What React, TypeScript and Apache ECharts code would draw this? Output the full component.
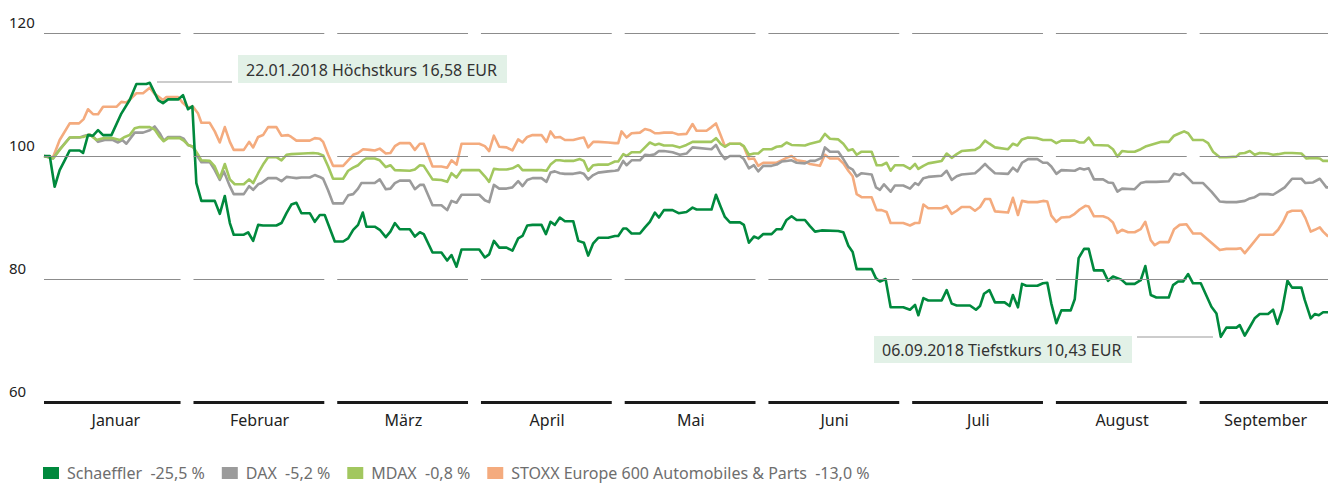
import React, { useEffect, useRef } from "react";
import * as echarts from "echarts";

// x = position within the 9-month period (1 month = 100 units, 0 = 1 January)
const months = ["Januar", "Februar", "März", "April", "Mai", "Juni", "Juli", "August", "September"];
const yTicks = { min: 60, max: 120, step: 20 };
const gridValues = [80, 100, 120];
const seriesNames = ["Schaeffler", "DAX", "MDAX", "STOXX Europe 600 Automobiles & Parts"];
const changes = ["-25,5 %", "-5,2 %", "-0,8 %", "-13,0 %"];

const schaeffler: [number, number][] = [
  [0, 100], [4.0, 100], [7.4, 95.0], [10.9, 97.7], [14.4, 99.3], [17.9, 100.9], [24.8, 100.9], [27.2, 100.5],
  [30.6, 103.4], [34.1, 103.3], [37.6, 104.2], [41.1, 103.4], [46.9, 103.4], [53.8, 106.9], [59.6, 109.1],
  [64.3, 111.7], [71.2, 111.7], [73.6, 111.9], [79.4, 109.1], [82.8, 108.6], [86.3, 109.2], [93.3, 109.2],
  [96.7, 109.9], [100.2, 107.6], [103.2, 108.1], [106.0, 95.6], [109.5, 92.7], [118.8, 92.7], [122.3, 90.6],
  [125.8, 93.5], [129.3, 89.1], [132.0, 87.2], [139.0, 87.2], [142.0, 87.6], [145.5, 86.2], [149.0, 88.8],
  [152.4, 88.7], [161.7, 88.7], [165.2, 89.1], [168.7, 90.7], [172.1, 92.1], [175.6, 92.4], [179.1, 90.7],
  [184.9, 90.7], [188.4, 89.3], [191.9, 90.4], [195.3, 90.4], [202.3, 86.1], [208.1, 86.1], [211.6, 86.6],
  [215.1, 88.0], [218.5, 88.8], [221.8, 90.8], [224.3, 88.5], [230.1, 88.5], [233.6, 88.0], [237.8, 86.8],
  [241.0, 87.7], [244.1, 89.1], [247.5, 88.1], [254.5, 88.1], [258.0, 86.9], [261.5, 87.6], [264.2, 87.3],
  [270.3, 84.3], [276.5, 84.3], [280.5, 83.0], [283.5, 83.9], [287.0, 82.0], [290.5, 84.8], [302.8, 84.8],
  [306.7, 83.5], [309.7, 84.0], [313.0, 86.2], [316.7, 85.1], [321.8, 85.1], [325.9, 84.6], [329.9, 86.6],
  [332.9, 87.0], [336.2, 88.7], [339.9, 88.8], [346.1, 88.8], [349.2, 87.3], [352.4, 89.3], [355.4, 88.8],
  [358.9, 90.0], [362.4, 89.4], [368.2, 89.4], [371.7, 86.2], [375.6, 85.9], [378.6, 83.8], [382.1, 85.8],
  [385.6, 86.7], [392.5, 86.7], [397.2, 87.0], [399.5, 87.0], [403.0, 88.2], [405.3, 88.2], [408.8, 87.4],
  [414.6, 87.4], [418.1, 88.4], [421.5, 89.3], [425.0, 90.8], [427.8, 90.0], [431.3, 91.2], [437.3, 91.2],
  [441.5, 90.7], [447.0, 90.9], [451.2, 91.6], [454.0, 91.3], [464.4, 91.3], [467.5, 93.7], [470.7, 91.8],
  [473.7, 90.1], [477.2, 89.2], [484.2, 89.2], [486.9, 88.8], [490.4, 85.9], [493.9, 86.9], [496.9, 86.6],
  [500.4, 87.3], [506.2, 87.3], [509.7, 88.1], [513.2, 88.1], [516.6, 89.6], [520.1, 90.2], [523.6, 89.6],
  [529.4, 89.6], [532.9, 88.6], [536.4, 87.7], [541.0, 87.9], [552.6, 87.8], [556.1, 87.6], [559.6, 85.4],
  [562.6, 84.4], [565.4, 81.6], [575.8, 81.6], [578.8, 80.1], [581.6, 79.6], [585.5, 80.0], [589.0, 75.4],
  [597.8, 75.4], [602.5, 75.0], [606.0, 75.8], [608.3, 74.1], [611.8, 76.9], [615.2, 76.5], [624.5, 76.5],
  [628.0, 78.2], [631.5, 76.0], [635.0, 75.7], [644.2, 75.7], [648.4, 75.0], [651.2, 75.6], [654.0, 77.6],
  [657.7, 78.2], [661.6, 76.2], [668.3, 76.2], [671.8, 75.6], [674.1, 77.4], [677.6, 75.4], [680.4, 79.2],
  [683.4, 78.9], [691.1, 78.9], [695.0, 79.3], [698.0, 79.4], [700.8, 76.0], [704.3, 72.8], [707.8, 74.9],
  [714.3, 74.9], [717.1, 76.7], [719.8, 83.4], [723.6, 84.9], [726.8, 84.9], [730.5, 81.4], [736.8, 81.4],
  [740.3, 79.7], [743.7, 80.4], [749.5, 79.9], [753.0, 79.2], [758.8, 79.2], [763.0, 79.8], [766.2, 82.1],
  [770.0, 77.4], [773.9, 77.0], [782.5, 77.0], [785.5, 79.0], [789.0, 79.6], [792.5, 79.6], [796.0, 80.8],
  [799.4, 79.3], [804.8, 79.3], [812.2, 75.5], [815.7, 74.4], [818.7, 70.6], [822.6, 72.1], [829.6, 72.1],
  [831.9, 72.5], [835.4, 70.8], [838.9, 72.2], [842.3, 73.6], [845.8, 74.3], [851.6, 74.3], [855.1, 75.0],
  [858.1, 72.7], [861.4, 75.0], [865.1, 79.7], [868.3, 78.6], [874.8, 78.6], [877.1, 76.6], [881.3, 73.6],
  [884.1, 74.3], [886.9, 74.1], [889.9, 74.6], [893.4, 74.6],
];

const dax: [number, number][] = [
  [0, 100], [6.3, 99.6], [10.9, 101.1], [17.9, 103.0], [24.8, 103.0], [28.3, 103.3], [31.8, 103.5], [35.3, 102.9],
  [37.6, 102.3], [42.2, 102.6], [48.0, 102.6], [51.5, 102.2], [54.5, 102.6], [57.3, 102.0], [63.1, 103.8],
  [68.9, 103.8], [73.6, 104.2], [77.0, 104.8], [80.5, 103.7], [83.3, 102.5], [86.3, 103.1], [94.4, 103.1],
  [97.2, 102.8], [100.2, 101.8], [103.7, 101.5], [107.2, 99.8], [109.5, 99.0], [115.3, 99.0], [118.8, 97.7],
  [122.3, 96.1], [125.1, 97.5], [129.3, 95.1], [132.0, 93.8], [139.0, 93.8], [142.7, 95.1], [145.5, 94.5],
  [149.0, 95.4], [151.3, 95.6], [155.9, 96.4], [161.7, 96.4], [165.2, 95.9], [168.7, 96.6], [172.1, 96.5],
  [175.6, 96.4], [179.1, 96.5], [184.9, 96.5], [188.4, 96.9], [191.9, 96.6], [194.2, 96.3], [197.7, 94.4],
  [201.1, 92.3], [208.1, 92.3], [211.6, 93.6], [215.1, 93.8], [218.5, 94.7], [220.8, 95.6], [230.1, 95.6],
  [233.6, 96.2], [237.8, 94.6], [241.0, 94.7], [244.1, 95.6], [247.5, 96.0], [254.5, 96.0], [258.0, 94.6],
  [261.5, 95.3], [264.2, 95.3], [270.3, 92.0], [276.5, 92.0], [280.5, 91.2], [283.5, 92.7], [287.0, 92.4],
  [290.5, 93.7], [302.8, 93.7], [306.7, 92.8], [309.7, 92.5], [313.0, 95.3], [316.7, 94.7], [321.8, 94.7],
  [325.9, 94.9], [329.9, 95.9], [332.9, 95.1], [336.2, 96.1], [339.9, 96.4], [346.1, 96.4], [349.6, 95.8],
  [352.4, 97.3], [355.4, 97.5], [358.9, 97.2], [362.4, 97.1], [368.2, 97.1], [372.8, 97.3], [375.6, 97.1],
  [378.6, 96.2], [382.1, 96.9], [385.6, 97.3], [392.5, 97.5], [397.2, 97.6], [399.5, 97.7], [403.0, 99.2],
  [405.3, 98.5], [408.8, 99.3], [414.6, 99.3], [418.1, 100.2], [421.5, 100.1], [425.0, 100.3], [427.8, 100.8],
  [431.3, 100.8], [437.3, 100.6], [442.4, 100.2], [447.0, 100.4], [451.2, 101.4], [464.4, 101.1], [467.5, 101.8],
  [470.7, 100.4], [473.7, 99.5], [477.2, 100.0], [484.2, 100.0], [486.9, 99.5], [490.4, 98.0], [493.9, 98.5],
  [496.9, 97.5], [500.4, 98.4], [506.2, 98.4], [509.7, 98.6], [513.2, 99.1], [516.6, 99.2], [520.1, 99.3],
  [523.6, 98.9], [529.4, 98.8], [532.9, 99.2], [536.4, 99.2], [541.0, 99.7], [543.3, 101.4], [546.8, 100.7],
  [552.6, 100.7], [556.1, 99.5], [559.6, 98.2], [562.6, 97.8], [565.4, 96.7], [568.8, 97.2], [575.8, 97.0],
  [578.8, 94.9], [581.6, 94.5], [584.4, 95.4], [589.0, 94.2], [592.0, 95.2], [597.8, 95.2], [602.5, 94.7],
  [606.0, 95.6], [608.3, 95.3], [611.8, 96.4], [615.2, 96.6], [624.5, 96.8], [628.0, 97.6], [631.5, 96.1],
  [635.0, 96.7], [638.4, 97.0], [647.7, 97.2], [651.2, 97.9], [654.7, 98.7], [657.7, 98.0], [661.6, 97.2],
  [670.7, 97.1], [674.1, 98.1], [677.2, 97.5], [680.4, 98.9], [684.6, 99.5], [691.1, 99.5], [695.0, 98.9],
  [698.0, 98.9], [700.8, 98.3], [704.3, 97.1], [707.8, 97.7], [717.1, 97.6], [720.5, 98.0], [723.6, 97.8],
  [726.8, 98.0], [730.5, 96.2], [736.8, 96.2], [740.3, 95.7], [743.7, 95.6], [746.8, 94.2], [750.0, 94.7],
  [758.8, 94.6], [763.0, 95.6], [766.9, 95.8], [773.9, 95.8], [782.5, 95.9], [786.2, 97.1], [790.1, 96.9],
  [792.5, 97.2], [796.0, 96.4], [799.4, 95.6], [806.4, 95.6], [812.2, 94.2], [818.0, 92.6], [822.6, 92.5],
  [829.6, 92.5], [835.4, 92.7], [838.9, 93.1], [842.3, 93.3], [845.8, 93.8], [851.6, 93.8], [855.1, 93.7],
  [858.6, 94.2], [863.2, 94.9], [868.3, 96.3], [874.8, 96.3], [877.6, 95.6], [882.9, 95.7], [887.6, 96.3],
  [889.9, 95.6], [892.2, 94.9], [893.4, 94.9],
];

const mdax: [number, number][] = [
  [0, 100], [6.3, 99.6], [10.9, 101.0], [17.9, 103.0], [27.2, 103.1], [31.8, 103.5], [36.5, 102.6], [41.1, 102.9],
  [48.0, 102.9], [52.7, 102.6], [56.2, 103.1], [59.6, 103.4], [63.1, 104.5], [66.6, 104.7], [73.6, 104.7],
  [77.0, 104.3], [80.5, 103.1], [83.3, 102.4], [86.3, 102.9], [94.4, 102.9], [97.2, 102.5], [100.2, 101.8],
  [103.7, 101.5], [107.2, 100.2], [109.5, 99.3], [115.3, 99.2], [118.8, 98.3], [122.3, 96.4], [125.8, 98.7],
  [129.3, 96.2], [132.7, 95.4], [139.0, 95.4], [142.7, 96.2], [145.5, 95.6], [149.0, 97.2], [152.9, 98.8],
  [155.9, 99.8], [161.7, 99.8], [165.2, 99.3], [168.7, 100.2], [172.1, 100.3], [180.3, 100.4], [187.2, 100.5],
  [190.7, 100.4], [194.2, 100.1], [197.7, 98.3], [201.1, 96.3], [208.1, 96.3], [211.6, 97.6], [215.1, 98.1],
  [218.5, 98.5], [222.0, 99.3], [224.3, 99.6], [230.1, 99.6], [233.6, 99.3], [237.8, 98.2], [241.0, 98.5],
  [244.1, 97.7], [254.5, 97.6], [258.0, 97.8], [261.5, 98.5], [264.2, 98.4], [270.3, 96.2], [276.5, 96.1],
  [280.5, 95.8], [283.5, 97.2], [287.0, 96.5], [290.5, 97.7], [302.8, 97.7], [306.7, 96.7], [309.7, 95.8],
  [313.0, 97.9], [316.7, 97.8], [321.8, 97.8], [325.9, 98.0], [329.9, 98.5], [332.9, 97.7], [346.1, 97.7],
  [349.6, 97.6], [352.4, 98.6], [356.1, 99.3], [358.9, 99.3], [362.4, 99.2], [368.2, 99.2], [372.8, 99.5],
  [375.6, 99.2], [378.6, 97.6], [382.1, 98.5], [385.6, 98.6], [392.5, 98.6], [397.2, 99.1], [399.5, 99.1],
  [403.0, 100.3], [405.3, 100.0], [408.8, 100.6], [414.6, 100.6], [418.1, 101.4], [421.5, 102.2], [425.0, 101.8],
  [427.8, 102.0], [431.3, 101.7], [437.3, 101.7], [442.4, 101.4], [447.0, 101.8], [451.2, 102.3], [464.4, 102.3],
  [467.5, 102.9], [470.7, 102.0], [473.7, 101.5], [477.2, 102.0], [484.2, 102.0], [486.9, 101.6], [490.4, 100.2],
  [493.9, 100.4], [496.9, 100.4], [500.4, 101.1], [506.2, 101.1], [509.7, 101.5], [513.2, 101.6], [516.6, 102.2],
  [520.1, 101.8], [529.4, 101.7], [532.9, 102.0], [536.4, 102.2], [539.8, 102.4], [543.3, 103.6], [546.8, 102.8],
  [552.6, 102.7], [556.1, 102.0], [559.6, 100.9], [562.6, 101.1], [565.4, 100.2], [568.8, 100.7], [575.8, 100.7],
  [579.3, 98.5], [582.8, 98.5], [586.2, 98.9], [589.0, 97.6], [592.0, 98.5], [597.8, 98.5], [602.5, 97.9],
  [606.0, 98.7], [608.3, 97.9], [611.8, 98.4], [615.2, 98.8], [624.5, 99.2], [628.0, 100.4], [631.5, 99.7],
  [635.0, 100.3], [638.4, 100.8], [647.7, 101.0], [651.2, 101.5], [654.7, 102.5], [657.7, 102.0], [661.6, 101.4],
  [670.7, 101.1], [674.1, 102.0], [677.2, 101.7], [680.4, 102.7], [684.6, 103.0], [691.1, 102.9], [695.0, 102.6],
  [700.8, 102.6], [704.3, 102.1], [707.8, 102.5], [717.1, 102.5], [720.5, 102.2], [723.6, 102.2], [726.8, 103.0],
  [730.5, 101.8], [740.3, 101.7], [743.7, 101.1], [746.8, 99.9], [750.0, 100.8], [754.2, 100.7], [758.8, 100.7],
  [763.0, 101.1], [766.9, 101.6], [772.7, 102.0], [777.4, 102.3], [782.5, 102.3], [786.2, 103.3], [790.1, 103.7],
  [793.2, 104.0], [796.0, 103.7], [799.4, 102.6], [806.4, 102.6], [809.9, 102.1], [813.3, 100.7], [818.0, 99.8],
  [822.6, 99.8], [829.6, 99.9], [831.9, 100.4], [835.4, 100.5], [838.9, 100.8], [842.3, 100.2], [845.8, 100.5],
  [851.6, 100.4], [855.1, 100.2], [858.6, 100.3], [863.2, 100.5], [868.3, 100.5], [874.8, 100.4], [878.3, 99.6],
  [882.9, 99.7], [887.6, 99.6], [889.9, 99.2], [893.4, 99.2],
];

const stoxx: [number, number][] = [
  [0, 100], [6.3, 99.8], [10.9, 102.6], [17.9, 105.3], [24.4, 105.3], [27.6, 106.0], [30.6, 107.6], [34.1, 106.8],
  [37.6, 106.8], [41.1, 108.0], [50.4, 108.0], [53.8, 108.8], [57.3, 108.7], [60.8, 109.4], [64.3, 110.2],
  [68.9, 110.2], [73.6, 111.1], [77.0, 110.1], [82.8, 109.1], [85.2, 109.6], [93.3, 109.6], [96.7, 108.6],
  [100.2, 107.9], [103.7, 108.0], [107.2, 106.9], [109.5, 105.4], [115.3, 105.4], [118.8, 104.0], [122.3, 102.2],
  [125.8, 104.7], [129.3, 102.3], [132.0, 101.0], [139.0, 101.0], [142.7, 102.3], [145.5, 101.4], [149.0, 103.1],
  [152.4, 103.4], [155.9, 104.7], [161.7, 104.7], [165.2, 103.3], [169.8, 103.4], [172.1, 103.1], [175.6, 102.5],
  [184.9, 102.5], [188.4, 102.9], [191.9, 102.8], [194.2, 102.3], [197.7, 100.2], [201.1, 98.4], [208.1, 98.4],
  [211.6, 99.3], [215.1, 100.2], [218.5, 100.5], [222.0, 101.1], [226.6, 101.0], [230.1, 100.9], [233.6, 101.2],
  [237.8, 100.4], [241.0, 100.5], [244.1, 101.6], [247.5, 102.1], [254.5, 102.1], [258.0, 101.0], [261.5, 102.0],
  [264.2, 102.0], [270.3, 98.3], [276.5, 98.3], [280.5, 98.1], [283.5, 99.3], [287.0, 98.6], [290.5, 102.0],
  [302.8, 102.0], [306.7, 101.6], [309.7, 100.8], [313.0, 103.3], [316.7, 101.5], [321.8, 101.4], [325.9, 100.9],
  [329.9, 102.7], [332.9, 102.2], [336.2, 103.1], [339.9, 103.4], [346.1, 103.4], [349.6, 102.3], [352.4, 104.0],
  [355.4, 103.0], [358.9, 103.1], [362.4, 102.6], [368.2, 102.6], [372.8, 102.9], [375.6, 103.0], [378.6, 101.4],
  [382.1, 102.3], [385.6, 102.3], [392.5, 102.2], [397.2, 102.1], [399.5, 102.1], [401.8, 104.0], [405.3, 103.0],
  [408.8, 103.7], [414.6, 103.8], [418.1, 104.4], [421.5, 104.2], [425.0, 103.7], [427.8, 103.7], [431.3, 103.8],
  [437.3, 103.8], [441.3, 103.5], [447.0, 103.6], [451.2, 105.2], [454.0, 104.1], [460.9, 104.1], [464.4, 104.7],
  [467.5, 105.3], [470.7, 103.4], [473.7, 101.6], [477.2, 102.0], [484.2, 102.0], [486.9, 101.5], [490.4, 99.5],
  [493.9, 99.6], [496.9, 98.4], [500.4, 98.9], [509.7, 98.9], [513.2, 99.3], [516.6, 99.7], [520.1, 100.0],
  [523.6, 99.3], [529.4, 99.1], [532.9, 98.7], [539.8, 98.4], [543.3, 100.2], [546.8, 99.6], [552.6, 99.6],
  [556.1, 98.8], [559.6, 97.6], [562.6, 96.7], [565.4, 93.8], [568.8, 93.3], [575.8, 93.3], [579.3, 91.2],
  [582.8, 91.2], [586.2, 90.9], [589.0, 89.1], [597.8, 89.1], [602.5, 88.7], [606.0, 89.1], [609.0, 89.1],
  [611.8, 92.1], [615.2, 91.5], [624.5, 91.5], [628.0, 91.9], [631.5, 90.6], [635.0, 91.1], [638.4, 91.7],
  [644.2, 91.7], [647.7, 91.1], [651.2, 91.7], [654.7, 93.0], [658.2, 93.0], [661.6, 91.0], [670.7, 90.8],
  [674.1, 93.2], [677.6, 90.4], [680.4, 92.7], [684.6, 92.5], [691.1, 92.5], [695.0, 92.7], [698.0, 92.6],
  [700.8, 90.3], [704.3, 89.3], [707.8, 90.0], [713.6, 90.1], [717.1, 90.6], [720.5, 91.3], [724.5, 91.9],
  [726.8, 91.8], [730.5, 90.2], [736.8, 90.2], [740.3, 89.9], [743.7, 89.2], [746.8, 87.5], [750.0, 88.0],
  [754.2, 87.6], [758.8, 87.6], [763.0, 88.1], [766.2, 89.3], [770.0, 86.3], [772.7, 85.5], [776.2, 86.0],
  [782.5, 86.0], [786.2, 88.1], [790.1, 88.8], [794.8, 88.9], [799.4, 87.4], [804.8, 87.4], [812.2, 85.9],
  [818.0, 84.7], [822.6, 84.9], [829.6, 84.9], [832.6, 85.0], [835.4, 84.2], [840.0, 85.5], [845.8, 87.2],
  [855.1, 87.2], [858.6, 88.0], [862.1, 89.3], [865.1, 90.8], [868.3, 91.1], [874.8, 91.1], [877.6, 89.9],
  [881.3, 87.7], [884.1, 88.0], [887.6, 88.4], [889.9, 87.7], [893.4, 86.9],
];

const seriesData = [schaeffler, dax, mdax, stoxx];
const colors = ["#00893d", "#9b9b9b", "#a2c75f", "#f4ab7e"];

const FONT = '"Noto Sans", sans-serif';
const X_MAX = 893.3;
const MONTH_SPAN = 100;
const SEG_START = 4;
const SEG_END = 95;

function segments(y: number) {
  return months.map((_, i) => [
    { coord: [i === 0 ? 0 : i * MONTH_SPAN + SEG_START, y] },
    { coord: [Math.min(X_MAX, i * MONTH_SPAN + SEG_END), y] },
  ]);
}

export default function App() {
  const ref = useRef<HTMLDivElement>(null);
  useEffect(() => {
    if (!ref.current) return;
    const chart = echarts.init(ref.current, undefined, { renderer: "svg" });
    const gridLines = gridValues.flatMap((v) => segments(v));
    const axisLines = segments(yTicks.min);
    const dataSeries = [3, 1, 2, 0].map((idx) => ({
      type: "line",
      name: seriesNames[idx],
      data: seriesData[idx],
      symbol: "none",
      showSymbol: false,
      z: 3,
      lineStyle: { width: 2.6, color: colors[idx], join: "round" },
      itemStyle: { color: colors[idx] },
    }));
    chart.setOption({
      animation: false,
      grid: { left: 44, right: 0, top: 33, bottom: 81 },
      xAxis: {
        type: "value",
        min: 0,
        max: X_MAX,
        interval: 50,
        axisLine: { show: false },
        axisTick: { show: false },
        splitLine: { show: false },
        axisLabel: {
          margin: 10,
          color: "#222",
          fontSize: 16,
          fontFamily: FONT,
          showMaxLabel: false,
          formatter: (v: number) => {
            const i = Math.round((v - 50) / MONTH_SPAN);
            return Math.abs(v - 50 - i * MONTH_SPAN) < 0.01 && months[i] ? months[i] : "";
          },
        },
      },
      yAxis: {
        type: "value",
        min: yTicks.min,
        max: yTicks.max,
        interval: yTicks.step,
        axisLine: { show: false },
        axisTick: { show: false },
        splitLine: { show: false },
        axisLabel: {
          align: "left",
          margin: 35,
          verticalAlign: "bottom",
          padding: [0, 0, 4, 0],
          color: "#222",
          fontSize: 15,
          fontFamily: FONT,
        },
      },
      legend: {
        left: 43,
        top: 465,
        padding: 0,
        itemWidth: 16,
        itemHeight: 12,
        itemGap: 17,
        icon: "rect",
        data: seriesNames,
        selectedMode: false,
        textStyle: { color: "#6e6e6e", fontSize: 16, lineHeight: 16, fontFamily: FONT, padding: [0, 0, 0, 3] },
        formatter: (name: string) => `${name}\u00a0\u00a0${changes[seriesNames.indexOf(name)]}`,
      },
      series: [
        {
          type: "line",
          name: "grid",
          data: [],
          silent: true,
          z: 1,
          markLine: {
            silent: true,
            symbol: "none",
            label: { show: false },
            lineStyle: { color: "#8c8c8c", width: 1, type: "solid" },
            data: gridLines,
          },
        },
        {
          type: "line",
          name: "axis",
          data: [],
          silent: true,
          z: 4,
          markLine: {
            silent: true,
            symbol: "none",
            label: { show: false },
            lineStyle: { color: "#1a1a1a", width: 3, type: "solid" },
            data: axisLines,
          },
        },
        ...dataSeries,
      ],
      graphic: [
        { type: "rect", shape: { x: 238, y: 55, width: 269, height: 28 }, style: { fill: "#e2f1e7" } },
        {
          type: "text",
          x: 246,
          y: 70,
          style: { text: "22.01.2018 Höchstkurs 16,58 EUR", font: `16px ${FONT}`, fill: "#333", verticalAlign: "middle" },
        },
        { type: "line", shape: { x1: 157, y1: 82, x2: 232, y2: 82 }, style: { stroke: "#999", lineWidth: 1 } },
        { type: "rect", shape: { x: 874, y: 336, width: 258, height: 27 }, style: { fill: "#e2f1e7" } },
        {
          type: "text",
          x: 882,
          y: 350,
          style: { text: "06.09.2018 Tiefstkurs 10,43 EUR", font: `16px ${FONT}`, fill: "#333", verticalAlign: "middle" },
        },
        { type: "line", shape: { x1: 1137, y1: 337, x2: 1213, y2: 337 }, style: { stroke: "#999", lineWidth: 1 } },
      ],
    });
    return () => chart.dispose();
  }, []);
  return <div ref={ref} style={{ position: "absolute", left: 0, top: 0, width: 1328, height: 483 }} />;
}
